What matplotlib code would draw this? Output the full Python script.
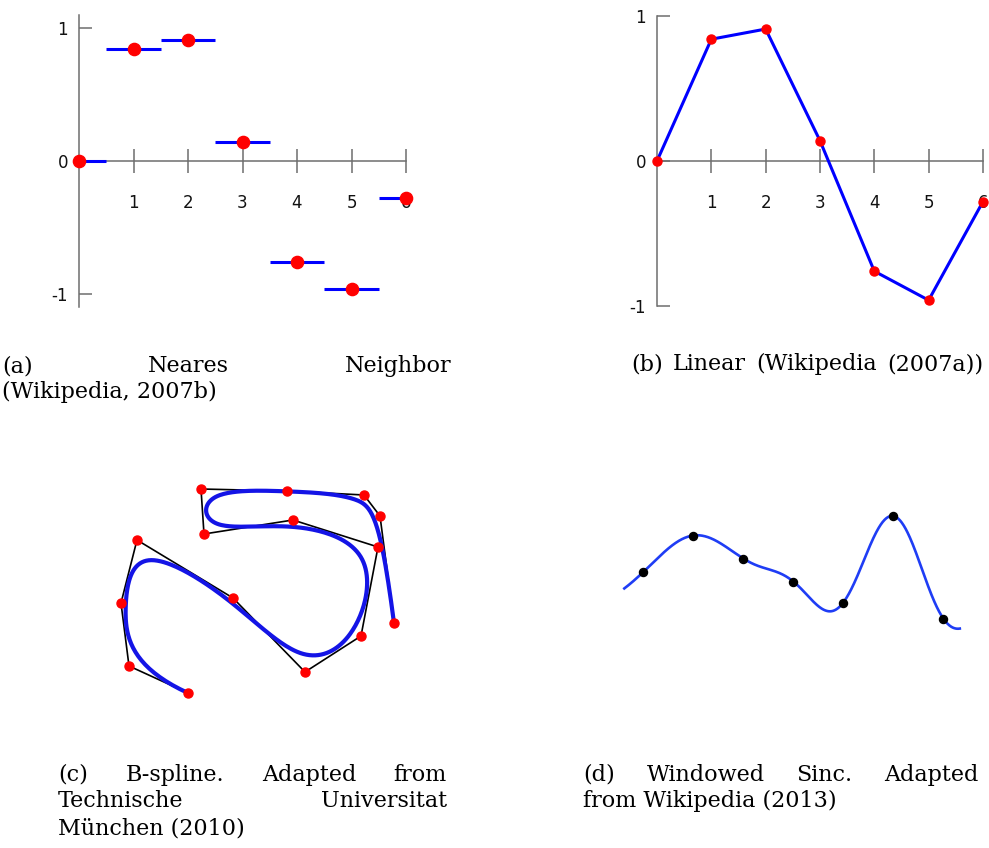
import numpy as np
import matplotlib
matplotlib.use("Agg")
from matplotlib import pyplot as plt

W, H = 989, 848

# samples of the interpolated function, panels (a) and (b)
xs = [0, 1, 2, 3, 4, 5, 6]
ys = [0.0, 0.84, 0.91, 0.14, -0.76, -0.96, -0.28]
xtick_labels = ["1", "2", "3", "4", "5", "6"]
ytick_labels = ["-1", "0", "1"]

# control polygon of the B-spline, panel (c)
ctrl_x = [188, 129, 121, 137, 233, 305, 361, 378, 293, 204, 201, 287, 364, 380, 394]
ctrl_y = [693, 666, 603, 540, 598, 672, 636, 547, 520, 534, 489, 491, 495, 516, 623]

# samples for the windowed sinc, panel (d)
sinc_n = [0, 1, 2, 3, 4, 5, 6]
sinc_v = [0.64, 1.37, 0.91, 0.45, 0.03, 1.76, -0.29]

captions = [
    "(a) Neares Neighbor",
    "(Wikipedia, 2007b)",
    "(b) Linear (Wikipedia (2007a))",
    "(c) B-spline. Adapted from",
    "Technische Universitat",
    "München (2010)",
    "(d) Windowed Sinc. Adapted",
    "from Wikipedia (2013)",
]

BLUE = "#0000ff"
RED = "#ff0000"
AXC = "#6e6e6e"

fig = plt.figure(figsize=(W / 100, H / 100), dpi=100)


def px_axes(x0, x1, y0, y1):
    return fig.add_axes([x0 / W, 1 - y1 / H, (x1 - x0) / W, (y1 - y0) / H])


def style_axes(ax, ybounds, ylen):
    ax.patch.set_visible(False)
    for s in ["top", "right"]:
        ax.spines[s].set_visible(False)
    for s in ["left", "bottom"]:
        ax.spines[s].set_position(("data", 0))
        ax.spines[s].set_color(AXC)
        ax.spines[s].set_linewidth(1.1)
    ax.spines["left"].set_bounds(*ybounds)
    ax.spines["bottom"].set_bounds(0, 6)
    ax.set_xticks(xs[1:])
    ax.set_xticklabels(xtick_labels)
    ax.set_yticks([-1, 0, 1])
    ax.set_yticklabels(ytick_labels)
    ax.tick_params(axis="x", direction="inout", length=17, width=1.1,
                   color=AXC, pad=15, labelsize=12, labelcolor="#111111")
    ax.tick_params(axis="y", direction="in", length=ylen, width=1.1,
                   color=AXC, pad=8, labelsize=12, labelcolor="#111111")


# (a) nearest neighbour
ax = px_axes(24.5, 460.5, 1.4, 320.6)
ax.set_xlim(-1, 7)
ax.set_ylim(-1.2, 1.2)
style_axes(ax, (-1.1, 1.1), 9)
for x, y in zip(xs, ys):
    ax.plot([max(x - 0.5, 0), min(x + 0.5, 6)], [y, y], color=BLUE, lw=2.2,
            solid_capstyle="butt", zorder=3)
ax.plot(xs, ys, "o", color=RED, ms=8.8, zorder=4, clip_on=False)

# (b) linear
ax = px_axes(602.67, 988.4, -5.75, 327.75)
ax.set_xlim(-1, 6.1)
ax.set_ylim(-1.15, 1.15)
style_axes(ax, (-1, 1), 9.6)
ax.plot(xs, ys, color=BLUE, lw=2.2, zorder=3, clip_on=False)
ax.plot(xs, ys, "o", color=RED, ms=6.5, zorder=4, clip_on=False)


# (c) clamped cubic B-spline
def bspline(px, py, k=3, num=500):
    n = len(px)
    knots = np.concatenate([np.zeros(k), np.arange(n - k + 1), np.full(k, n - k)])
    t = np.linspace(0, n - k, num)
    t[-1] -= 1e-9
    N = np.array([(knots[i] <= t) & (t < knots[i + 1])
                  for i in range(len(knots) - 1)], dtype=float)
    for p in range(1, k + 1):
        new = np.zeros((len(knots) - 1 - p, len(t)))
        for i in range(len(knots) - 1 - p):
            d1 = knots[i + p] - knots[i]
            d2 = knots[i + p + 1] - knots[i + 1]
            a = (t - knots[i]) / d1 * N[i] if d1 > 0 else 0
            b = (knots[i + p + 1] - t) / d2 * N[i + 1] if d2 > 0 else 0
            new[i] = a + b
        N = new
    return N.T @ np.array(px, float), N.T @ np.array(py, float)


ax = px_axes(100, 420, 470, 720)
ax.set_xlim(100, 420)
ax.set_ylim(720, 470)
ax.axis("off")
ax.plot(ctrl_x, ctrl_y, color="black", lw=1.2, zorder=2)
bx, by = bspline(ctrl_x, ctrl_y)
ax.plot(bx, by, color="#1414e6", lw=3, zorder=3, solid_capstyle="round")
ax.plot(ctrl_x, ctrl_y, "o", color=RED, ms=6.5, zorder=4)


# (d) windowed sinc (Lanczos, a=3)
def lanczos(x, a=3):
    return np.where(np.abs(x) < a, np.sinc(x) * np.sinc(x / a), 0.0)


ax = px_axes(603.3, 983.3, 494, 654)
ax.set_xlim(-0.8, 6.8)
ax.set_ylim(-1.0, 2.2)
ax.axis("off")
t = np.linspace(-0.38, 6.33, 700)
f = sum(v * lanczos(t - n) for n, v in zip(sinc_n, sinc_v))
ax.plot(t, f, color="#1f3df5", lw=1.9, zorder=3)
ax.plot(sinc_n, sinc_v, "o", color="black", ms=5.8, zorder=4)

# captions: full lines justified word by word, last lines set naturally
over = fig.add_axes([0, 0, 1, 1])
over.set_xlim(0, W)
over.set_ylim(H, 0)
over.axis("off")
renderer = fig.canvas.get_renderer()
layout = [(2, 451, 372), (2, None, 398), (631, 983, 370),
          (58, 447, 781), (58, 447, 807), (58, None, 834),
          (583, 979, 781), (583, None, 807)]
for text, (x0, x1, y) in zip(captions, layout):
    if x1 is None:
        over.text(x0, y, text, fontsize=16, family="DejaVu Serif",
                  va="baseline", ha="left", color="black")
        continue
    words = text.split(" ")
    arts = [over.text(0, y, w, fontsize=16, family="DejaVu Serif",
                      va="baseline", ha="left", color="black") for w in words]
    widths = [a.get_window_extent(renderer).width for a in arts]
    gap = (x1 - x0 - sum(widths)) / max(len(words) - 1, 1)
    x = x0
    for a, w in zip(arts, widths):
        a.set_x(x)
        x += w + gap

fig.savefig("out.png", dpi=100)
